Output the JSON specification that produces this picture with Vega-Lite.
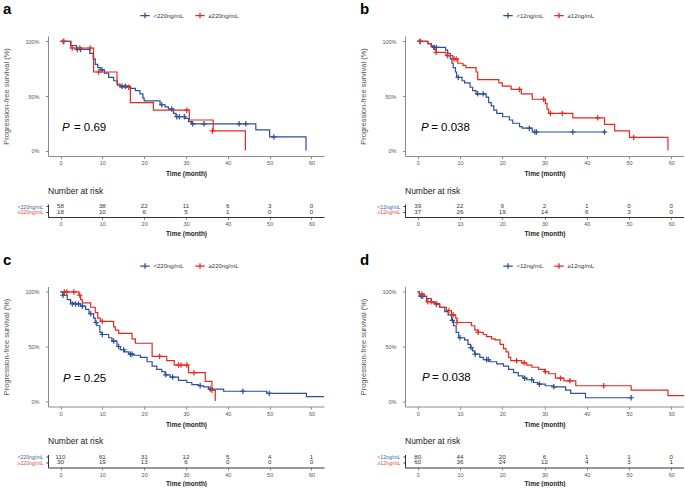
{
"$schema": "https://vega.github.io/schema/vega-lite/v6.json",
"padding": {"left": 2, "top": 2, "right": 0, "bottom": 0},
"config": {
 "font": "Liberation Sans",
 "view": {"stroke": null},
 "axis": {"grid": false, "labelOverlap": false, "labelFont": "Liberation Sans", "labelFontSize": 5.5, "labelColor": "#555", "domainColor": "#8a8a8a", "tickColor": "#8a8a8a", "tickSize": 2.5, "labelPadding": 2, "titleFont": "Liberation Sans", "titleFontSize": 6.5, "titleFontWeight": "bold", "titleColor": "#222", "titlePadding": 3},
 "axisY": {"titleFontWeight": "normal", "titleFontSize": 7.5, "titleColor": "#555", "titlePadding": 14, "labelPadding": 6.5},
 "legend": {"orient": "none", "direction": "horizontal", "title": null, "labelFontSize": 6, "labelColor": "#333", "labelFont": "Liberation Sans", "symbolType": "M-1,0H1M0,-0.6V0.6", "symbolSize": 90, "symbolStrokeWidth": 1.3, "columnPadding": 8, "labelOffset": 3}
},
"datasets": {
 "km": [
  {"p":"a","g":"<220ng/mL","t":0,"s":1},{"p":"a","g":"<220ng/mL","t":2.4,"s":0.963},{"p":"a","g":"<220ng/mL","t":3.8,"s":0.927},{"p":"a","g":"<220ng/mL","t":7,"s":0.89},{"p":"a","g":"<220ng/mL","t":7.8,"s":0.84},{"p":"a","g":"<220ng/mL","t":8.3,"s":0.79},{"p":"a","g":"<220ng/mL","t":8.9,"s":0.76},{"p":"a","g":"<220ng/mL","t":9.5,"s":0.74},{"p":"a","g":"<220ng/mL","t":10.5,"s":0.71},{"p":"a","g":"<220ng/mL","t":11.5,"s":0.67},{"p":"a","g":"<220ng/mL","t":12.7,"s":0.64},{"p":"a","g":"<220ng/mL","t":13.6,"s":0.6},{"p":"a","g":"<220ng/mL","t":14.3,"s":0.59},{"p":"a","g":"<220ng/mL","t":16.7,"s":0.57},{"p":"a","g":"<220ng/mL","t":17.9,"s":0.55},{"p":"a","g":"<220ng/mL","t":19,"s":0.52},{"p":"a","g":"<220ng/mL","t":19.7,"s":0.48},{"p":"a","g":"<220ng/mL","t":20,"s":0.455},{"p":"a","g":"<220ng/mL","t":23.8,"s":0.42},{"p":"a","g":"<220ng/mL","t":25,"s":0.4},{"p":"a","g":"<220ng/mL","t":25.8,"s":0.38},{"p":"a","g":"<220ng/mL","t":27,"s":0.34},{"p":"a","g":"<220ng/mL","t":27.6,"s":0.31},{"p":"a","g":"<220ng/mL","t":29.8,"s":0.295},{"p":"a","g":"<220ng/mL","t":30.6,"s":0.265},{"p":"a","g":"<220ng/mL","t":31.3,"s":0.245},{"p":"a","g":"<220ng/mL","t":46.7,"s":0.19},{"p":"a","g":"<220ng/mL","t":50,"s":0.125},{"p":"a","g":"<220ng/mL","t":58.7,"s":0},
  {"p":"a","g":"≥220ng/mL","t":0,"s":1},{"p":"a","g":"≥220ng/mL","t":2.5,"s":0.94},{"p":"a","g":"≥220ng/mL","t":7.9,"s":0.72},{"p":"a","g":"≥220ng/mL","t":13.5,"s":0.61},{"p":"a","g":"≥220ng/mL","t":14.2,"s":0.58},{"p":"a","g":"≥220ng/mL","t":16.7,"s":0.44},{"p":"a","g":"≥220ng/mL","t":22.2,"s":0.37},{"p":"a","g":"≥220ng/mL","t":30.8,"s":0.28},{"p":"a","g":"≥220ng/mL","t":36.5,"s":0.18},{"p":"a","g":"≥220ng/mL","t":44.2,"s":0},
  {"p":"b","g":"<12ng/mL","t":0,"s":1},{"p":"b","g":"<12ng/mL","t":2.4,"s":0.98},{"p":"b","g":"<12ng/mL","t":3.2,"s":0.955},{"p":"b","g":"<12ng/mL","t":3.6,"s":0.945},{"p":"b","g":"<12ng/mL","t":6.6,"s":0.92},{"p":"b","g":"<12ng/mL","t":7.1,"s":0.89},{"p":"b","g":"<12ng/mL","t":7.7,"s":0.84},{"p":"b","g":"<12ng/mL","t":8.1,"s":0.8},{"p":"b","g":"<12ng/mL","t":8.4,"s":0.76},{"p":"b","g":"<12ng/mL","t":8.9,"s":0.72},{"p":"b","g":"<12ng/mL","t":9.2,"s":0.67},{"p":"b","g":"<12ng/mL","t":10.5,"s":0.64},{"p":"b","g":"<12ng/mL","t":11.1,"s":0.62},{"p":"b","g":"<12ng/mL","t":12.4,"s":0.58},{"p":"b","g":"<12ng/mL","t":13,"s":0.55},{"p":"b","g":"<12ng/mL","t":13.8,"s":0.52},{"p":"b","g":"<12ng/mL","t":16.2,"s":0.49},{"p":"b","g":"<12ng/mL","t":16.8,"s":0.44},{"p":"b","g":"<12ng/mL","t":17.4,"s":0.41},{"p":"b","g":"<12ng/mL","t":18,"s":0.37},{"p":"b","g":"<12ng/mL","t":18.7,"s":0.34},{"p":"b","g":"<12ng/mL","t":20.1,"s":0.31},{"p":"b","g":"<12ng/mL","t":21.7,"s":0.28},{"p":"b","g":"<12ng/mL","t":22.5,"s":0.25},{"p":"b","g":"<12ng/mL","t":24.1,"s":0.22},{"p":"b","g":"<12ng/mL","t":24.7,"s":0.205},{"p":"b","g":"<12ng/mL","t":27.1,"s":0.17},{"p":"b","g":"<12ng/mL","t":44.6,"s":0.17},
  {"p":"b","g":"≥12ng/mL","t":0,"s":1},{"p":"b","g":"≥12ng/mL","t":2.4,"s":0.98},{"p":"b","g":"≥12ng/mL","t":3.2,"s":0.96},{"p":"b","g":"≥12ng/mL","t":3.8,"s":0.93},{"p":"b","g":"≥12ng/mL","t":4.3,"s":0.9},{"p":"b","g":"≥12ng/mL","t":6.7,"s":0.87},{"p":"b","g":"≥12ng/mL","t":8.3,"s":0.84},{"p":"b","g":"≥12ng/mL","t":9.5,"s":0.8},{"p":"b","g":"≥12ng/mL","t":10.7,"s":0.78},{"p":"b","g":"≥12ng/mL","t":11.4,"s":0.76},{"p":"b","g":"≥12ng/mL","t":13.8,"s":0.72},{"p":"b","g":"≥12ng/mL","t":14.2,"s":0.65},{"p":"b","g":"≥12ng/mL","t":19.2,"s":0.62},{"p":"b","g":"≥12ng/mL","t":20,"s":0.59},{"p":"b","g":"≥12ng/mL","t":22.1,"s":0.56},{"p":"b","g":"≥12ng/mL","t":24.5,"s":0.52},{"p":"b","g":"≥12ng/mL","t":27.1,"s":0.47},{"p":"b","g":"≥12ng/mL","t":30.2,"s":0.43},{"p":"b","g":"≥12ng/mL","t":30.6,"s":0.38},{"p":"b","g":"≥12ng/mL","t":31,"s":0.34},{"p":"b","g":"≥12ng/mL","t":36.7,"s":0.3},{"p":"b","g":"≥12ng/mL","t":44.2,"s":0.24},{"p":"b","g":"≥12ng/mL","t":46.6,"s":0.18},{"p":"b","g":"≥12ng/mL","t":50.1,"s":0.12},{"p":"b","g":"≥12ng/mL","t":59.2,"s":0},
  {"p":"c","g":"<220ng/mL","t":0,"s":1},{"p":"c","g":"<220ng/mL","t":0.5,"s":0.97},{"p":"c","g":"<220ng/mL","t":1.6,"s":0.93},{"p":"c","g":"<220ng/mL","t":2.4,"s":0.9},{"p":"c","g":"<220ng/mL","t":3.2,"s":0.89},{"p":"c","g":"<220ng/mL","t":4.8,"s":0.87},{"p":"c","g":"<220ng/mL","t":6,"s":0.84},{"p":"c","g":"<220ng/mL","t":6.8,"s":0.8},{"p":"c","g":"<220ng/mL","t":7.9,"s":0.76},{"p":"c","g":"<220ng/mL","t":8.3,"s":0.72},{"p":"c","g":"<220ng/mL","t":8.7,"s":0.69},{"p":"c","g":"<220ng/mL","t":9.4,"s":0.63},{"p":"c","g":"<220ng/mL","t":9.9,"s":0.61},{"p":"c","g":"<220ng/mL","t":11.5,"s":0.58},{"p":"c","g":"<220ng/mL","t":12.3,"s":0.55},{"p":"c","g":"<220ng/mL","t":13.5,"s":0.5},{"p":"c","g":"<220ng/mL","t":14.3,"s":0.47},{"p":"c","g":"<220ng/mL","t":15.3,"s":0.45},{"p":"c","g":"<220ng/mL","t":16.3,"s":0.43},{"p":"c","g":"<220ng/mL","t":17.5,"s":0.42},{"p":"c","g":"<220ng/mL","t":19.1,"s":0.4},{"p":"c","g":"<220ng/mL","t":20.7,"s":0.36},{"p":"c","g":"<220ng/mL","t":21.9,"s":0.32},{"p":"c","g":"<220ng/mL","t":23,"s":0.29},{"p":"c","g":"<220ng/mL","t":24.2,"s":0.27},{"p":"c","g":"<220ng/mL","t":25,"s":0.24},{"p":"c","g":"<220ng/mL","t":26.2,"s":0.22},{"p":"c","g":"<220ng/mL","t":28.2,"s":0.19},{"p":"c","g":"<220ng/mL","t":30.2,"s":0.17},{"p":"c","g":"<220ng/mL","t":31.4,"s":0.15},{"p":"c","g":"<220ng/mL","t":33,"s":0.14},{"p":"c","g":"<220ng/mL","t":34.2,"s":0.13},{"p":"c","g":"<220ng/mL","t":35.4,"s":0.11},{"p":"c","g":"<220ng/mL","t":39,"s":0.09},{"p":"c","g":"<220ng/mL","t":49.3,"s":0.07},{"p":"c","g":"<220ng/mL","t":58.8,"s":0.04},{"p":"c","g":"<220ng/mL","t":63,"s":0.04},
  {"p":"c","g":"≥220ng/mL","t":0,"s":1},{"p":"c","g":"≥220ng/mL","t":4.4,"s":0.97},{"p":"c","g":"≥220ng/mL","t":4.8,"s":0.93},{"p":"c","g":"≥220ng/mL","t":5.2,"s":0.9},{"p":"c","g":"≥220ng/mL","t":7.2,"s":0.86},{"p":"c","g":"≥220ng/mL","t":8.3,"s":0.81},{"p":"c","g":"≥220ng/mL","t":8.9,"s":0.76},{"p":"c","g":"≥220ng/mL","t":9.5,"s":0.73},{"p":"c","g":"≥220ng/mL","t":12.7,"s":0.68},{"p":"c","g":"≥220ng/mL","t":13.1,"s":0.65},{"p":"c","g":"≥220ng/mL","t":13.9,"s":0.62},{"p":"c","g":"≥220ng/mL","t":17.1,"s":0.57},{"p":"c","g":"≥220ng/mL","t":17.9,"s":0.53},{"p":"c","g":"≥220ng/mL","t":21.9,"s":0.41},{"p":"c","g":"≥220ng/mL","t":25.4,"s":0.37},{"p":"c","g":"≥220ng/mL","t":27.2,"s":0.33},{"p":"c","g":"≥220ng/mL","t":30.6,"s":0.26},{"p":"c","g":"≥220ng/mL","t":34.6,"s":0.18},{"p":"c","g":"≥220ng/mL","t":36.2,"s":0.1},{"p":"c","g":"≥220ng/mL","t":37,"s":0},
  {"p":"d","g":"<12ng/mL","t":0,"s":1},{"p":"d","g":"<12ng/mL","t":0.4,"s":0.96},{"p":"d","g":"<12ng/mL","t":2.1,"s":0.94},{"p":"d","g":"<12ng/mL","t":3.2,"s":0.91},{"p":"d","g":"<12ng/mL","t":4,"s":0.89},{"p":"d","g":"<12ng/mL","t":5.2,"s":0.86},{"p":"d","g":"<12ng/mL","t":6.4,"s":0.82},{"p":"d","g":"<12ng/mL","t":7.2,"s":0.79},{"p":"d","g":"<12ng/mL","t":8,"s":0.74},{"p":"d","g":"<12ng/mL","t":8.5,"s":0.69},{"p":"d","g":"<12ng/mL","t":9.1,"s":0.63},{"p":"d","g":"<12ng/mL","t":9.7,"s":0.58},{"p":"d","g":"<12ng/mL","t":11.1,"s":0.56},{"p":"d","g":"<12ng/mL","t":11.9,"s":0.52},{"p":"d","g":"<12ng/mL","t":12.5,"s":0.49},{"p":"d","g":"<12ng/mL","t":13,"s":0.46},{"p":"d","g":"<12ng/mL","t":13.5,"s":0.43},{"p":"d","g":"<12ng/mL","t":14.7,"s":0.4},{"p":"d","g":"<12ng/mL","t":15.5,"s":0.38},{"p":"d","g":"<12ng/mL","t":17.1,"s":0.36},{"p":"d","g":"<12ng/mL","t":18.7,"s":0.34},{"p":"d","g":"<12ng/mL","t":20.3,"s":0.32},{"p":"d","g":"<12ng/mL","t":21.5,"s":0.29},{"p":"d","g":"<12ng/mL","t":22.7,"s":0.26},{"p":"d","g":"<12ng/mL","t":23.8,"s":0.23},{"p":"d","g":"<12ng/mL","t":24.9,"s":0.21},{"p":"d","g":"<12ng/mL","t":25.8,"s":0.195},{"p":"d","g":"<12ng/mL","t":27.4,"s":0.17},{"p":"d","g":"<12ng/mL","t":28.4,"s":0.155},{"p":"d","g":"<12ng/mL","t":30.2,"s":0.14},{"p":"d","g":"<12ng/mL","t":32.2,"s":0.13},{"p":"d","g":"<12ng/mL","t":35,"s":0.1},{"p":"d","g":"<12ng/mL","t":36.2,"s":0.07},{"p":"d","g":"<12ng/mL","t":39.7,"s":0.03},{"p":"d","g":"<12ng/mL","t":50.5,"s":0.03},
  {"p":"d","g":"≥12ng/mL","t":0,"s":1},{"p":"d","g":"≥12ng/mL","t":0.4,"s":0.98},{"p":"d","g":"≥12ng/mL","t":1.6,"s":0.96},{"p":"d","g":"≥12ng/mL","t":2.1,"s":0.91},{"p":"d","g":"≥12ng/mL","t":3.6,"s":0.9},{"p":"d","g":"≥12ng/mL","t":4.4,"s":0.89},{"p":"d","g":"≥12ng/mL","t":5.2,"s":0.86},{"p":"d","g":"≥12ng/mL","t":6.8,"s":0.83},{"p":"d","g":"≥12ng/mL","t":8,"s":0.79},{"p":"d","g":"≥12ng/mL","t":9,"s":0.76},{"p":"d","g":"≥12ng/mL","t":9.3,"s":0.72},{"p":"d","g":"≥12ng/mL","t":12.7,"s":0.69},{"p":"d","g":"≥12ng/mL","t":13.5,"s":0.65},{"p":"d","g":"≥12ng/mL","t":14.3,"s":0.63},{"p":"d","g":"≥12ng/mL","t":15.5,"s":0.61},{"p":"d","g":"≥12ng/mL","t":16.3,"s":0.59},{"p":"d","g":"≥12ng/mL","t":17.5,"s":0.57},{"p":"d","g":"≥12ng/mL","t":18.3,"s":0.56},{"p":"d","g":"≥12ng/mL","t":19.5,"s":0.52},{"p":"d","g":"≥12ng/mL","t":20.3,"s":0.48},{"p":"d","g":"≥12ng/mL","t":20.9,"s":0.45},{"p":"d","g":"≥12ng/mL","t":21.5,"s":0.4},{"p":"d","g":"≥12ng/mL","t":22,"s":0.37},{"p":"d","g":"≥12ng/mL","t":24.6,"s":0.35},{"p":"d","g":"≥12ng/mL","t":25.8,"s":0.33},{"p":"d","g":"≥12ng/mL","t":27,"s":0.31},{"p":"d","g":"≥12ng/mL","t":28.6,"s":0.29},{"p":"d","g":"≥12ng/mL","t":30,"s":0.27},{"p":"d","g":"≥12ng/mL","t":31,"s":0.25},{"p":"d","g":"≥12ng/mL","t":32.6,"s":0.21},{"p":"d","g":"≥12ng/mL","t":34.6,"s":0.185},{"p":"d","g":"≥12ng/mL","t":37.4,"s":0.14},{"p":"d","g":"≥12ng/mL","t":50.5,"s":0.1},{"p":"d","g":"≥12ng/mL","t":59.2,"s":0.05},{"p":"d","g":"≥12ng/mL","t":63,"s":0.05}
 ],
 "cens": [
  {"p":"a","g":"<220ng/mL","t":0.8,"s":1},{"p":"a","g":"<220ng/mL","t":4,"s":0.927},{"p":"a","g":"<220ng/mL","t":4.8,"s":0.927},{"p":"a","g":"<220ng/mL","t":9.9,"s":0.74},{"p":"a","g":"<220ng/mL","t":14.7,"s":0.59},{"p":"a","g":"<220ng/mL","t":15.5,"s":0.59},{"p":"a","g":"<220ng/mL","t":24.2,"s":0.42},{"p":"a","g":"<220ng/mL","t":26.6,"s":0.38},{"p":"a","g":"<220ng/mL","t":27.8,"s":0.31},{"p":"a","g":"<220ng/mL","t":28.4,"s":0.31},{"p":"a","g":"<220ng/mL","t":29.6,"s":0.31},{"p":"a","g":"<220ng/mL","t":31.6,"s":0.245},{"p":"a","g":"<220ng/mL","t":34.3,"s":0.245},{"p":"a","g":"<220ng/mL","t":42.7,"s":0.245},{"p":"a","g":"<220ng/mL","t":44.3,"s":0.245},{"p":"a","g":"<220ng/mL","t":51,"s":0.125},
  {"p":"a","g":"≥220ng/mL","t":0.6,"s":1},{"p":"a","g":"≥220ng/mL","t":2.8,"s":0.94},{"p":"a","g":"≥220ng/mL","t":4.6,"s":0.94},{"p":"a","g":"≥220ng/mL","t":7.1,"s":0.94},{"p":"a","g":"≥220ng/mL","t":9.1,"s":0.72},{"p":"a","g":"≥220ng/mL","t":16.3,"s":0.58},{"p":"a","g":"≥220ng/mL","t":30.2,"s":0.37},{"p":"a","g":"≥220ng/mL","t":36.3,"s":0.18},
  {"p":"b","g":"<12ng/mL","t":0.5,"s":1},{"p":"b","g":"<12ng/mL","t":3.9,"s":0.945},{"p":"b","g":"<12ng/mL","t":4.4,"s":0.945},{"p":"b","g":"<12ng/mL","t":9.6,"s":0.67},{"p":"b","g":"<12ng/mL","t":14.2,"s":0.52},{"p":"b","g":"<12ng/mL","t":15.5,"s":0.52},{"p":"b","g":"<12ng/mL","t":26.4,"s":0.205},{"p":"b","g":"<12ng/mL","t":27.7,"s":0.17},{"p":"b","g":"<12ng/mL","t":28.1,"s":0.17},{"p":"b","g":"<12ng/mL","t":36.7,"s":0.17},{"p":"b","g":"<12ng/mL","t":44.2,"s":0.17},
  {"p":"b","g":"≥12ng/mL","t":0.6,"s":1},{"p":"b","g":"≥12ng/mL","t":4.4,"s":0.9},{"p":"b","g":"≥12ng/mL","t":7.1,"s":0.87},{"p":"b","g":"≥12ng/mL","t":8.6,"s":0.84},{"p":"b","g":"≥12ng/mL","t":9.1,"s":0.84},{"p":"b","g":"≥12ng/mL","t":24.1,"s":0.56},{"p":"b","g":"≥12ng/mL","t":29.8,"s":0.47},{"p":"b","g":"≥12ng/mL","t":31.4,"s":0.34},{"p":"b","g":"≥12ng/mL","t":34.2,"s":0.34},{"p":"b","g":"≥12ng/mL","t":42.6,"s":0.3},{"p":"b","g":"≥12ng/mL","t":51.1,"s":0.12},
  {"p":"c","g":"<220ng/mL","t":0.6,"s":0.97},{"p":"c","g":"<220ng/mL","t":2.8,"s":0.89},{"p":"c","g":"<220ng/mL","t":3.6,"s":0.89},{"p":"c","g":"<220ng/mL","t":4.3,"s":0.89},{"p":"c","g":"<220ng/mL","t":5.2,"s":0.87},{"p":"c","g":"<220ng/mL","t":7.2,"s":0.8},{"p":"c","g":"<220ng/mL","t":8.5,"s":0.72},{"p":"c","g":"<220ng/mL","t":10,"s":0.61},{"p":"c","g":"<220ng/mL","t":12.7,"s":0.55},{"p":"c","g":"<220ng/mL","t":13.9,"s":0.5},{"p":"c","g":"<220ng/mL","t":15.1,"s":0.47},{"p":"c","g":"<220ng/mL","t":16.7,"s":0.43},{"p":"c","g":"<220ng/mL","t":17.1,"s":0.43},{"p":"c","g":"<220ng/mL","t":25.2,"s":0.24},{"p":"c","g":"<220ng/mL","t":26.8,"s":0.22},{"p":"c","g":"<220ng/mL","t":33.4,"s":0.14},{"p":"c","g":"<220ng/mL","t":35.8,"s":0.11},{"p":"c","g":"<220ng/mL","t":43.6,"s":0.09},{"p":"c","g":"<220ng/mL","t":49.9,"s":0.07},
  {"p":"c","g":"≥220ng/mL","t":0.9,"s":1},{"p":"c","g":"≥220ng/mL","t":1.5,"s":1},{"p":"c","g":"≥220ng/mL","t":3.2,"s":1},{"p":"c","g":"≥220ng/mL","t":4.6,"s":0.97},{"p":"c","g":"≥220ng/mL","t":10,"s":0.73},{"p":"c","g":"≥220ng/mL","t":23.7,"s":0.41},{"p":"c","g":"≥220ng/mL","t":28.2,"s":0.33},{"p":"c","g":"≥220ng/mL","t":28.8,"s":0.33},{"p":"c","g":"≥220ng/mL","t":30.2,"s":0.33},{"p":"c","g":"≥220ng/mL","t":31.9,"s":0.26},{"p":"c","g":"≥220ng/mL","t":36.2,"s":0.1},
  {"p":"d","g":"<12ng/mL","t":0.8,"s":0.96},{"p":"d","g":"<12ng/mL","t":1.2,"s":0.96},{"p":"d","g":"<12ng/mL","t":4.5,"s":0.89},{"p":"d","g":"<12ng/mL","t":8.2,"s":0.74},{"p":"d","g":"<12ng/mL","t":10,"s":0.58},{"p":"d","g":"<12ng/mL","t":12.6,"s":0.49},{"p":"d","g":"<12ng/mL","t":13.6,"s":0.43},{"p":"d","g":"<12ng/mL","t":16.3,"s":0.38},{"p":"d","g":"<12ng/mL","t":16.7,"s":0.38},{"p":"d","g":"<12ng/mL","t":25.3,"s":0.21},{"p":"d","g":"<12ng/mL","t":27,"s":0.195},{"p":"d","g":"<12ng/mL","t":28.8,"s":0.155},{"p":"d","g":"<12ng/mL","t":32.2,"s":0.13},{"p":"d","g":"<12ng/mL","t":50.5,"s":0.03},
  {"p":"d","g":"≥12ng/mL","t":1,"s":0.98},{"p":"d","g":"≥12ng/mL","t":2.4,"s":0.91},{"p":"d","g":"≥12ng/mL","t":3.2,"s":0.91},{"p":"d","g":"≥12ng/mL","t":4.4,"s":0.89},{"p":"d","g":"≥12ng/mL","t":7.4,"s":0.83},{"p":"d","g":"≥12ng/mL","t":8.4,"s":0.79},{"p":"d","g":"≥12ng/mL","t":9.3,"s":0.72},{"p":"d","g":"≥12ng/mL","t":14.3,"s":0.63},{"p":"d","g":"≥12ng/mL","t":23.4,"s":0.37},{"p":"d","g":"≥12ng/mL","t":25.2,"s":0.35},{"p":"d","g":"≥12ng/mL","t":30.2,"s":0.27},{"p":"d","g":"≥12ng/mL","t":33.8,"s":0.21},{"p":"d","g":"≥12ng/mL","t":36,"s":0.185},{"p":"d","g":"≥12ng/mL","t":44,"s":0.14}
 ],
 "risk": [
  {"p":"a","g":"<220ng/mL","t":0,"n":58},{"p":"a","g":"<220ng/mL","t":10,"n":38},{"p":"a","g":"<220ng/mL","t":20,"n":22},{"p":"a","g":"<220ng/mL","t":30,"n":11},{"p":"a","g":"<220ng/mL","t":40,"n":6},{"p":"a","g":"<220ng/mL","t":50,"n":3},{"p":"a","g":"<220ng/mL","t":60,"n":0},
  {"p":"a","g":"≥220ng/mL","t":0,"n":18},{"p":"a","g":"≥220ng/mL","t":10,"n":10},{"p":"a","g":"≥220ng/mL","t":20,"n":6},{"p":"a","g":"≥220ng/mL","t":30,"n":5},{"p":"a","g":"≥220ng/mL","t":40,"n":1},{"p":"a","g":"≥220ng/mL","t":50,"n":0},{"p":"a","g":"≥220ng/mL","t":60,"n":0},
  {"p":"b","g":"<12ng/mL","t":0,"n":39},{"p":"b","g":"<12ng/mL","t":10,"n":22},{"p":"b","g":"<12ng/mL","t":20,"n":9},{"p":"b","g":"<12ng/mL","t":30,"n":2},{"p":"b","g":"<12ng/mL","t":40,"n":1},{"p":"b","g":"<12ng/mL","t":50,"n":0},{"p":"b","g":"<12ng/mL","t":60,"n":0},
  {"p":"b","g":"≥12ng/mL","t":0,"n":37},{"p":"b","g":"≥12ng/mL","t":10,"n":26},{"p":"b","g":"≥12ng/mL","t":20,"n":19},{"p":"b","g":"≥12ng/mL","t":30,"n":14},{"p":"b","g":"≥12ng/mL","t":40,"n":6},{"p":"b","g":"≥12ng/mL","t":50,"n":3},{"p":"b","g":"≥12ng/mL","t":60,"n":0},
  {"p":"c","g":"<220ng/mL","t":0,"n":110},{"p":"c","g":"<220ng/mL","t":10,"n":61},{"p":"c","g":"<220ng/mL","t":20,"n":31},{"p":"c","g":"<220ng/mL","t":30,"n":12},{"p":"c","g":"<220ng/mL","t":40,"n":5},{"p":"c","g":"<220ng/mL","t":50,"n":4},{"p":"c","g":"<220ng/mL","t":60,"n":1},
  {"p":"c","g":"≥220ng/mL","t":0,"n":30},{"p":"c","g":"≥220ng/mL","t":10,"n":19},{"p":"c","g":"≥220ng/mL","t":20,"n":13},{"p":"c","g":"≥220ng/mL","t":30,"n":6},{"p":"c","g":"≥220ng/mL","t":40,"n":0},{"p":"c","g":"≥220ng/mL","t":50,"n":0},{"p":"c","g":"≥220ng/mL","t":60,"n":0},
  {"p":"d","g":"<12ng/mL","t":0,"n":80},{"p":"d","g":"<12ng/mL","t":10,"n":44},{"p":"d","g":"<12ng/mL","t":20,"n":20},{"p":"d","g":"<12ng/mL","t":30,"n":6},{"p":"d","g":"<12ng/mL","t":40,"n":1},{"p":"d","g":"<12ng/mL","t":50,"n":1},{"p":"d","g":"<12ng/mL","t":60,"n":0},
  {"p":"d","g":"≥12ng/mL","t":0,"n":60},{"p":"d","g":"≥12ng/mL","t":10,"n":36},{"p":"d","g":"≥12ng/mL","t":20,"n":24},{"p":"d","g":"≥12ng/mL","t":30,"n":12},{"p":"d","g":"≥12ng/mL","t":40,"n":4},{"p":"d","g":"≥12ng/mL","t":50,"n":3},{"p":"d","g":"≥12ng/mL","t":60,"n":1}
 ],
 "pval": [
  {"p":"a","lab":"P","v":"= 0.69","t":0.35,"t2":3.2,"s":0.21},
  {"p":"b","lab":"P","v":"= 0.038","t":0.8,"t2":3.2,"s":0.21},
  {"p":"c","lab":"P","v":"= 0.25","t":0.6,"t2":3.2,"s":0.2},
  {"p":"d","lab":"P","v":"= 0.038","t":1.0,"t2":3.4,"s":0.21}
 ]
},
"resolve": {"scale": {"color": "independent", "x": "independent", "y": "independent"}, "legend": {"color": "independent"}},
"spacing": 15.5,
"vconcat": [
 {"hconcat": [
  {"vconcat": [
   {"width": 276, "height": 120,
    "title": {"text": "a", "anchor": "start", "frame": "bounds", "fontSize": 15, "fontWeight": "bold", "color": "#000", "offset": -7},
    "layer": [
     {"data": {"name": "km"}, "transform": [{"filter": "datum.p == 'a'"}],
      "mark": {"type": "line", "interpolate": "step-after", "strokeWidth": 1.2, "clip": true},
      "encoding": {
       "x": {"field": "t", "type": "quantitative", "scale": {"domain": [-3, 63], "nice": false, "zero": false}, "axis": {"values": [0,10,20,30,40,50,60], "title": "Time (month)", "titlePadding": 4.5}},
       "y": {"field": "s", "type": "quantitative", "scale": {"domain": [-0.05, 1.05], "nice": false, "zero": false}, "axis": {"values": [0,0.25,0.5,0.75,1], "format": ".0%", "title": "Progression-free survival (%)"}},
       "color": {"field": "g", "type": "nominal", "scale": {"domain": ["<220ng/mL", "≥220ng/mL"], "range": ["#2C4F97", "#E8281F"]}, "legend": {"legendX": 91.5, "legendY": -26}}}},
     {"data": {"name": "cens"}, "transform": [{"filter": "datum.p == 'a'"}],
      "mark": {"type": "point", "shape": "M-1,0H1M0,-1V1", "filled": false, "size": 30, "strokeWidth": 1.2, "opacity": 1},
      "encoding": {"x": {"field": "t", "type": "quantitative"}, "y": {"field": "s", "type": "quantitative"}, "color": {"field": "g", "type": "nominal"}}},
     {"data": {"name": "pval"}, "transform": [{"filter": "datum.p == 'a'"}],
      "mark": {"type": "text", "fontSize": 11.5, "fontStyle": "italic", "align": "left", "baseline": "middle", "color": "#000"},
      "encoding": {"x": {"field": "t", "type": "quantitative"}, "y": {"field": "s", "type": "quantitative"}, "text": {"field": "lab"}}},
     {"data": {"name": "pval"}, "transform": [{"filter": "datum.p == 'a'"}],
      "mark": {"type": "text", "fontSize": 11.5, "align": "left", "baseline": "middle", "color": "#000"},
      "encoding": {"x": {"field": "t2", "type": "quantitative"}, "y": {"field": "s", "type": "quantitative"}, "text": {"field": "v"}}}
    ]},
   {"width": 276, "height": 13,
    "title": {"text": "Number at risk", "anchor": "start", "frame": "group", "fontSize": 8.5, "fontWeight": "normal", "color": "#222", "offset": 8},
    "data": {"name": "risk"}, "transform": [{"filter": "datum.p == 'a'"}],
    "mark": {"type": "text", "fontSize": 6.2, "color": "#333", "baseline": "middle"},
    "encoding": {
     "x": {"field": "t", "type": "quantitative", "scale": {"domain": [-3, 63], "nice": false, "zero": false}, "axis": {"values": [0,10,20,30,40,50,60], "title": "Time (month)", "domainColor": "#333"}},
     "y": {"field": "g", "type": "nominal", "scale": {"type": "point", "domain": ["<220ng/mL", "≥220ng/mL"], "padding": 0.68, "align": 0.33}, "axis": {"title": null, "labelFontSize": 5.2, "labelPadding": 3, "domainColor": "#333", "tickColor": "#333", "tickSize": 2, "labelColor": {"condition": {"test": "datum.value == '<220ng/mL'", "value": "#3B5BA5"}, "value": "#E8403A"}}},
     "text": {"field": "n", "type": "quantitative"}}}
  ], "spacing": 9, "resolve": {"scale": {"color": "independent", "x": "independent", "y": "independent"}}},
  {"vconcat": [
   {"width": 279, "height": 120,
    "title": {"text": "b", "anchor": "start", "frame": "bounds", "fontSize": 15, "fontWeight": "bold", "color": "#000", "offset": -7},
    "layer": [
     {"data": {"name": "km"}, "transform": [{"filter": "datum.p == 'b'"}],
      "mark": {"type": "line", "interpolate": "step-after", "strokeWidth": 1.2, "clip": true},
      "encoding": {
       "x": {"field": "t", "type": "quantitative", "scale": {"domain": [-3, 63], "nice": false, "zero": false}, "axis": {"values": [0,10,20,30,40,50,60], "title": "Time (month)", "titlePadding": 4.5}},
       "y": {"field": "s", "type": "quantitative", "scale": {"domain": [-0.05, 1.05], "nice": false, "zero": false}, "axis": {"values": [0,0.25,0.5,0.75,1], "format": ".0%", "title": "Progression-free survival (%)"}},
       "color": {"field": "g", "type": "nominal", "scale": {"domain": ["<12ng/mL", "≥12ng/mL"], "range": ["#2C4F97", "#E8281F"]}, "legend": {"legendX": 97.5, "legendY": -26}}}},
     {"data": {"name": "cens"}, "transform": [{"filter": "datum.p == 'b'"}],
      "mark": {"type": "point", "shape": "M-1,0H1M0,-1V1", "filled": false, "size": 30, "strokeWidth": 1.2, "opacity": 1},
      "encoding": {"x": {"field": "t", "type": "quantitative"}, "y": {"field": "s", "type": "quantitative"}, "color": {"field": "g", "type": "nominal"}}},
     {"data": {"name": "pval"}, "transform": [{"filter": "datum.p == 'b'"}],
      "mark": {"type": "text", "fontSize": 11.5, "fontStyle": "italic", "align": "left", "baseline": "middle", "color": "#000"},
      "encoding": {"x": {"field": "t", "type": "quantitative"}, "y": {"field": "s", "type": "quantitative"}, "text": {"field": "lab"}}},
     {"data": {"name": "pval"}, "transform": [{"filter": "datum.p == 'b'"}],
      "mark": {"type": "text", "fontSize": 11.5, "align": "left", "baseline": "middle", "color": "#000"},
      "encoding": {"x": {"field": "t2", "type": "quantitative"}, "y": {"field": "s", "type": "quantitative"}, "text": {"field": "v"}}}
    ]},
   {"width": 279, "height": 13,
    "title": {"text": "Number at risk", "anchor": "start", "frame": "group", "fontSize": 8.5, "fontWeight": "normal", "color": "#222", "offset": 8},
    "data": {"name": "risk"}, "transform": [{"filter": "datum.p == 'b'"}],
    "mark": {"type": "text", "fontSize": 6.2, "color": "#333", "baseline": "middle"},
    "encoding": {
     "x": {"field": "t", "type": "quantitative", "scale": {"domain": [-3, 63], "nice": false, "zero": false}, "axis": {"values": [0,10,20,30,40,50,60], "title": "Time (month)", "domainColor": "#333"}},
     "y": {"field": "g", "type": "nominal", "scale": {"type": "point", "domain": ["<12ng/mL", "≥12ng/mL"], "padding": 0.68, "align": 0.33}, "axis": {"title": null, "labelFontSize": 5.2, "labelPadding": 3, "domainColor": "#333", "tickColor": "#333", "tickSize": 2, "labelColor": {"condition": {"test": "datum.value == '<12ng/mL'", "value": "#3B5BA5"}, "value": "#E8403A"}}},
     "text": {"field": "n", "type": "quantitative"}}}
  ], "spacing": 9, "resolve": {"scale": {"color": "independent", "x": "independent", "y": "independent"}}}
 ], "spacing": 35, "resolve": {"scale": {"color": "independent", "x": "independent", "y": "independent"}, "legend": {"color": "independent"}}},
 {"hconcat": [
  {"vconcat": [
   {"width": 276, "height": 120,
    "title": {"text": "c", "anchor": "start", "frame": "bounds", "fontSize": 15, "fontWeight": "bold", "color": "#000", "offset": -7},
    "layer": [
     {"data": {"name": "km"}, "transform": [{"filter": "datum.p == 'c'"}],
      "mark": {"type": "line", "interpolate": "step-after", "strokeWidth": 1.2, "clip": true},
      "encoding": {
       "x": {"field": "t", "type": "quantitative", "scale": {"domain": [-3, 63], "nice": false, "zero": false}, "axis": {"values": [0,10,20,30,40,50,60], "title": "Time (month)", "titlePadding": 4.5}},
       "y": {"field": "s", "type": "quantitative", "scale": {"domain": [-0.05, 1.05], "nice": false, "zero": false}, "axis": {"values": [0,0.25,0.5,0.75,1], "format": ".0%", "title": "Progression-free survival (%)"}},
       "color": {"field": "g", "type": "nominal", "scale": {"domain": ["<220ng/mL", "≥220ng/mL"], "range": ["#2C4F97", "#E8281F"]}, "legend": {"legendX": 91.5, "legendY": -26}}}},
     {"data": {"name": "cens"}, "transform": [{"filter": "datum.p == 'c'"}],
      "mark": {"type": "point", "shape": "M-1,0H1M0,-1V1", "filled": false, "size": 30, "strokeWidth": 1.2, "opacity": 1},
      "encoding": {"x": {"field": "t", "type": "quantitative"}, "y": {"field": "s", "type": "quantitative"}, "color": {"field": "g", "type": "nominal"}}},
     {"data": {"name": "pval"}, "transform": [{"filter": "datum.p == 'c'"}],
      "mark": {"type": "text", "fontSize": 11.5, "fontStyle": "italic", "align": "left", "baseline": "middle", "color": "#000"},
      "encoding": {"x": {"field": "t", "type": "quantitative"}, "y": {"field": "s", "type": "quantitative"}, "text": {"field": "lab"}}},
     {"data": {"name": "pval"}, "transform": [{"filter": "datum.p == 'c'"}],
      "mark": {"type": "text", "fontSize": 11.5, "align": "left", "baseline": "middle", "color": "#000"},
      "encoding": {"x": {"field": "t2", "type": "quantitative"}, "y": {"field": "s", "type": "quantitative"}, "text": {"field": "v"}}}
    ]},
   {"width": 276, "height": 13,
    "title": {"text": "Number at risk", "anchor": "start", "frame": "group", "fontSize": 8.5, "fontWeight": "normal", "color": "#222", "offset": 8},
    "data": {"name": "risk"}, "transform": [{"filter": "datum.p == 'c'"}],
    "mark": {"type": "text", "fontSize": 6.2, "color": "#333", "baseline": "middle"},
    "encoding": {
     "x": {"field": "t", "type": "quantitative", "scale": {"domain": [-3, 63], "nice": false, "zero": false}, "axis": {"values": [0,10,20,30,40,50,60], "title": "Time (month)", "domainColor": "#333"}},
     "y": {"field": "g", "type": "nominal", "scale": {"type": "point", "domain": ["<220ng/mL", "≥220ng/mL"], "padding": 0.68, "align": 0.33}, "axis": {"title": null, "labelFontSize": 5.2, "labelPadding": 3, "domainColor": "#333", "tickColor": "#333", "tickSize": 2, "labelColor": {"condition": {"test": "datum.value == '<220ng/mL'", "value": "#3B5BA5"}, "value": "#E8403A"}}},
     "text": {"field": "n", "type": "quantitative"}}}
  ], "spacing": 9, "resolve": {"scale": {"color": "independent", "x": "independent", "y": "independent"}}},
  {"vconcat": [
   {"width": 279, "height": 120,
    "title": {"text": "d", "anchor": "start", "frame": "bounds", "fontSize": 15, "fontWeight": "bold", "color": "#000", "offset": -7},
    "layer": [
     {"data": {"name": "km"}, "transform": [{"filter": "datum.p == 'd'"}],
      "mark": {"type": "line", "interpolate": "step-after", "strokeWidth": 1.2, "clip": true},
      "encoding": {
       "x": {"field": "t", "type": "quantitative", "scale": {"domain": [-3, 63], "nice": false, "zero": false}, "axis": {"values": [0,10,20,30,40,50,60], "title": "Time (month)", "titlePadding": 4.5}},
       "y": {"field": "s", "type": "quantitative", "scale": {"domain": [-0.05, 1.05], "nice": false, "zero": false}, "axis": {"values": [0,0.25,0.5,0.75,1], "format": ".0%", "title": "Progression-free survival (%)"}},
       "color": {"field": "g", "type": "nominal", "scale": {"domain": ["<12ng/mL", "≥12ng/mL"], "range": ["#2C4F97", "#E8281F"]}, "legend": {"legendX": 97.5, "legendY": -26}}}},
     {"data": {"name": "cens"}, "transform": [{"filter": "datum.p == 'd'"}],
      "mark": {"type": "point", "shape": "M-1,0H1M0,-1V1", "filled": false, "size": 30, "strokeWidth": 1.2, "opacity": 1},
      "encoding": {"x": {"field": "t", "type": "quantitative"}, "y": {"field": "s", "type": "quantitative"}, "color": {"field": "g", "type": "nominal"}}},
     {"data": {"name": "pval"}, "transform": [{"filter": "datum.p == 'd'"}],
      "mark": {"type": "text", "fontSize": 11.5, "fontStyle": "italic", "align": "left", "baseline": "middle", "color": "#000"},
      "encoding": {"x": {"field": "t", "type": "quantitative"}, "y": {"field": "s", "type": "quantitative"}, "text": {"field": "lab"}}},
     {"data": {"name": "pval"}, "transform": [{"filter": "datum.p == 'd'"}],
      "mark": {"type": "text", "fontSize": 11.5, "align": "left", "baseline": "middle", "color": "#000"},
      "encoding": {"x": {"field": "t2", "type": "quantitative"}, "y": {"field": "s", "type": "quantitative"}, "text": {"field": "v"}}}
    ]},
   {"width": 279, "height": 13,
    "title": {"text": "Number at risk", "anchor": "start", "frame": "group", "fontSize": 8.5, "fontWeight": "normal", "color": "#222", "offset": 8},
    "data": {"name": "risk"}, "transform": [{"filter": "datum.p == 'd'"}],
    "mark": {"type": "text", "fontSize": 6.2, "color": "#333", "baseline": "middle"},
    "encoding": {
     "x": {"field": "t", "type": "quantitative", "scale": {"domain": [-3, 63], "nice": false, "zero": false}, "axis": {"values": [0,10,20,30,40,50,60], "title": "Time (month)", "domainColor": "#333"}},
     "y": {"field": "g", "type": "nominal", "scale": {"type": "point", "domain": ["<12ng/mL", "≥12ng/mL"], "padding": 0.68, "align": 0.33}, "axis": {"title": null, "labelFontSize": 5.2, "labelPadding": 3, "domainColor": "#333", "tickColor": "#333", "tickSize": 2, "labelColor": {"condition": {"test": "datum.value == '<12ng/mL'", "value": "#3B5BA5"}, "value": "#E8403A"}}},
     "text": {"field": "n", "type": "quantitative"}}}
  ], "spacing": 9, "resolve": {"scale": {"color": "independent", "x": "independent", "y": "independent"}}}
 ], "spacing": 35, "resolve": {"scale": {"color": "independent", "x": "independent", "y": "independent"}, "legend": {"color": "independent"}}}
]
}
